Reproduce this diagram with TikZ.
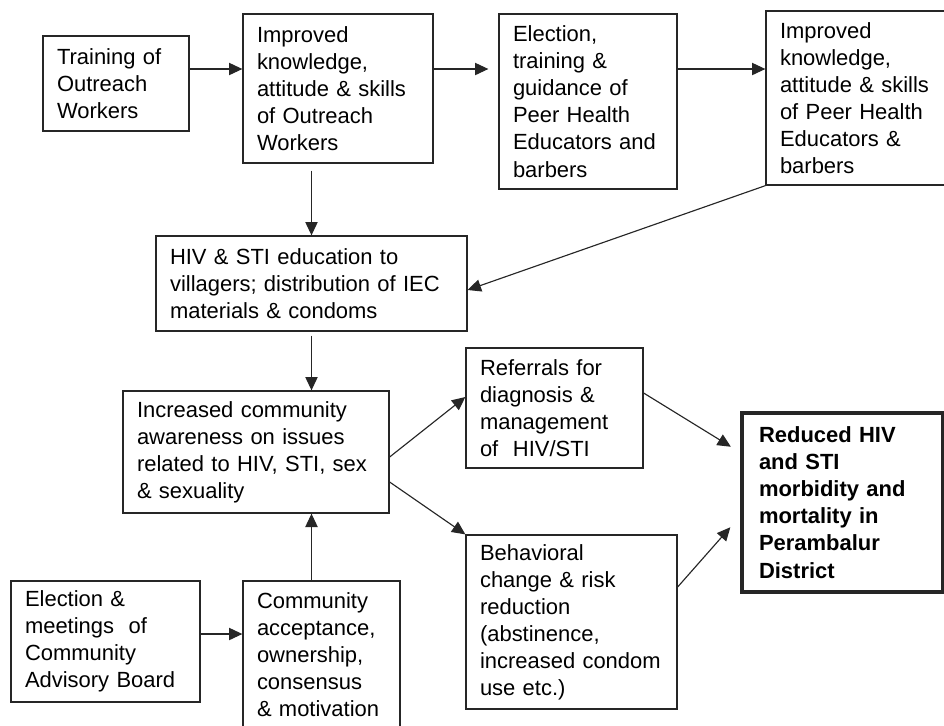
\documentclass[tikz,border=0pt]{standalone}
\usepackage{fontspec}
\setmainfont{Liberation Sans}
\usetikzlibrary{arrows.meta}

\begin{document}
\begin{tikzpicture}[x=0.02cm,y=-0.02cm,
        box/.style={draw=black!85,line width=0.75pt,align=left,inner xsep=0.28cm,inner ysep=0pt,
            font=\fontsize{12.5}{15.4}\selectfont},
        arr/.style={draw=black!85,line width=0.65pt,-{Triangle[length=7.6pt,width=7pt]}}]
        \useasboundingbox (0,0) rectangle (944,725);
        \node[box,text width=2.36cm,minimum height=1.9cm] (train) at (116,83.5) {Training of\\Outreach\\Workers};
        \node[box,text width=3.24cm,minimum height=2.98cm] (impow) at (338,88.5) {Improved\\knowledge,\\attitude \& skills\\of Outreach\\Workers};
        \node[box,text width=3.0cm,minimum height=3.5cm] (elect) at (588,101.5) {Election,\\training \&\\guidance of\\Peer Health\\Educators and\\barbers};
        \node[box,text width=3.32cm,minimum height=3.48cm] (impphe) at (863,98) {Improved\\knowledge,\\attitude \& skills\\of Peer Health\\Educators \&\\barbers};
        \node[box,text width=5.66cm,minimum height=1.9cm] (hivedu) at (311.5,283.5) {HIV \& STI education to\\villagers; distribution of IEC\\materials \& condoms};
        \node[box,text width=4.76cm,minimum height=2.44cm] (aware) at (256,452) {Increased community\\awareness on issues\\related to HIV, STI, sex\\\& sexuality};
        \node[box,text width=2.98cm,minimum height=2.4cm] (refer) at (554.5,408) {Referrals for\\diagnosis \&\\management\\of~ HIV/STI};
        \node[box,text width=3.66cm,minimum height=3.48cm] (behav) at (571.5,622) {Behavioral\\change \& risk\\reduction\\(abstinence,\\increased condom\\use etc.)};
        \node[box,line width=2pt,inner xsep=0.34cm,text width=3.34cm,minimum height=3.58cm,font=\fontsize{12.5}{15.4}\selectfont\bfseries] (reduced) at (842.5,502.5) {Reduced HIV\\and STI\\morbidity and\\mortality in\\Perambalur\\District};
        \node[box,text width=3.22cm,minimum height=2.42cm] (cab) at (105.5,641.5) {Election \&\\meetings~ of\\Community\\Advisory Board};
        \node[box,text width=2.58cm,minimum height=2.96cm] (comm) at (321.5,655) {Community\\acceptance,\\ownership,\\consensus\\\& motivation};
        \coordinate (rowa) at (0,69);
        \coordinate (rowb) at (0,634);
        \draw[arr] (train.east |- rowa) -- (impow.west |- rowa);
        \draw[arr,shorten >=0.2cm] (impow.east |- rowa) -- (elect.west |- rowa);
        \draw[arr] (elect.east |- rowa) -- (impphe.west |- rowa);
        \draw[arr,shorten <=0.14cm] (hivedu.north |- impow.south) -- (hivedu.north);
        \draw[arr] (impphe.south west) -- ([yshift=-0.13cm]hivedu.east);
        \draw[arr,shorten <=0.08cm] (hivedu.south) -- (hivedu.south |- aware.north);
        \draw[arr] (hivedu.south |- comm.north) -- (hivedu.south |- aware.south);
        \draw[arr] (cab.east |- rowb) -- (comm.west |- rowb);
        \draw[arr] ([yshift=-0.1cm]aware.east) -- ([yshift=0.22cm]refer.west);
        \draw[arr] ([yshift=-0.6cm]aware.east) -- (behav.north west);
        \draw[arr,shorten >=0.22cm] ([yshift=0.3cm]refer.east) -- ([yshift=1cm]reduced.west);
        \draw[arr,shorten >=0.3cm] ([yshift=0.7cm]behav.east) -- ([yshift=-0.27cm]reduced.west);
\end{tikzpicture}
\end{document}
